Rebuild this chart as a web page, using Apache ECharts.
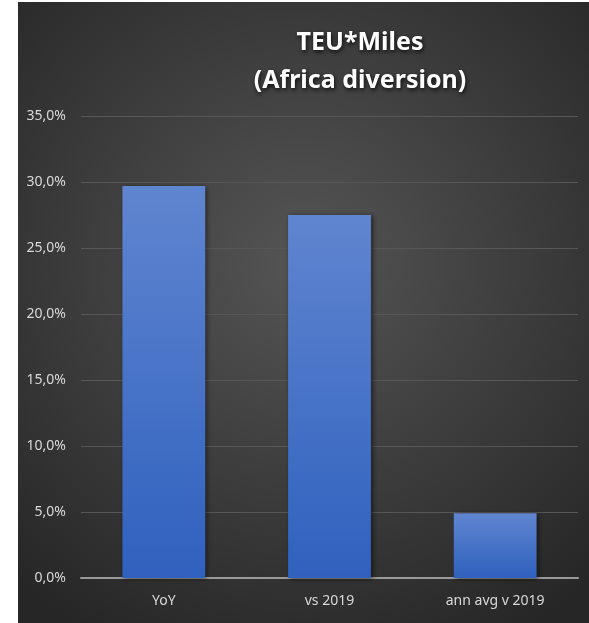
<!DOCTYPE html>
<html>
<head>
<meta charset="utf-8">
<script src="https://cdn.jsdelivr.net/npm/echarts@6/dist/echarts.min.js"></script>
<style>
  html, body { margin: 0; padding: 0; background: #ffffff; }
  #chart { position: absolute; left: 18px; top: 2px; width: 571px; height: 621px; }
</style>
</head>
<body>
<div id="chart"></div>
<script>
// Chart data
const categories = ['YoY', 'vs 2019', 'ann avg v 2019'];
const teuMilesChange = [29.7, 27.5, 4.9];
const yTicks = { min: 0, max: 35, interval: 5 };

const FONT = '"Noto Sans", sans-serif';

const chart = echarts.init(document.getElementById('chart'), null, { renderer: 'canvas' });

chart.setOption({
  animation: false,
  backgroundColor: {
    type: 'radial', x: 0.5, y: 0.42, r: 0.75,
    colorStops: [
      { offset: 0, color: '#555555' },
      { offset: 1, color: '#262626' }
    ]
  },
  title: {
    text: 'TEU*Miles\n(Africa diversion)',
    left: 337, top: 17,
    textAlign: 'center',
    textStyle: {
      fontFamily: FONT, fontSize: 25, fontWeight: 'bold',
      color: '#ffffff', lineHeight: 38,
      textShadowColor: 'rgba(0,0,0,0.8)', textShadowBlur: 4,
      textShadowOffsetX: 1, textShadowOffsetY: 2
    }
  },
  grid: { left: 63, right: 11, top: 114, bottom: 45, containLabel: false },
  xAxis: {
    type: 'category',
    data: categories,
    axisTick: { show: false },
    axisLine: { lineStyle: { color: '#9a9a9a', width: 2 } },
    axisLabel: { color: '#d9d9d9', fontFamily: FONT, fontSize: 14, margin: 16 }
  },
  yAxis: {
    type: 'value',
    min: yTicks.min, max: yTicks.max, interval: yTicks.interval,
    axisLine: { show: false },
    axisTick: { show: false },
    axisLabel: {
      color: '#d9d9d9', fontFamily: FONT, fontSize: 14, margin: 15,
      formatter: v => v.toFixed(1).replace('.', ',') + '%'
    },
    splitLine: { lineStyle: { color: '#575757', width: 1 } }
  },
  series: [{
    type: 'bar',
    data: teuMilesChange,
    barWidth: '50%',
    itemStyle: {
      color: {
        type: 'linear', x: 0, y: 0, x2: 0, y2: 1,
        colorStops: [
          { offset: 0, color: '#6085d0' },
          { offset: 1, color: '#2f61be' }
        ]
      },
      shadowColor: 'rgba(0,0,0,0.55)', shadowBlur: 5, shadowOffsetX: 2, shadowOffsetY: 1
    }
  }]
});
</script>
</body>
</html>
